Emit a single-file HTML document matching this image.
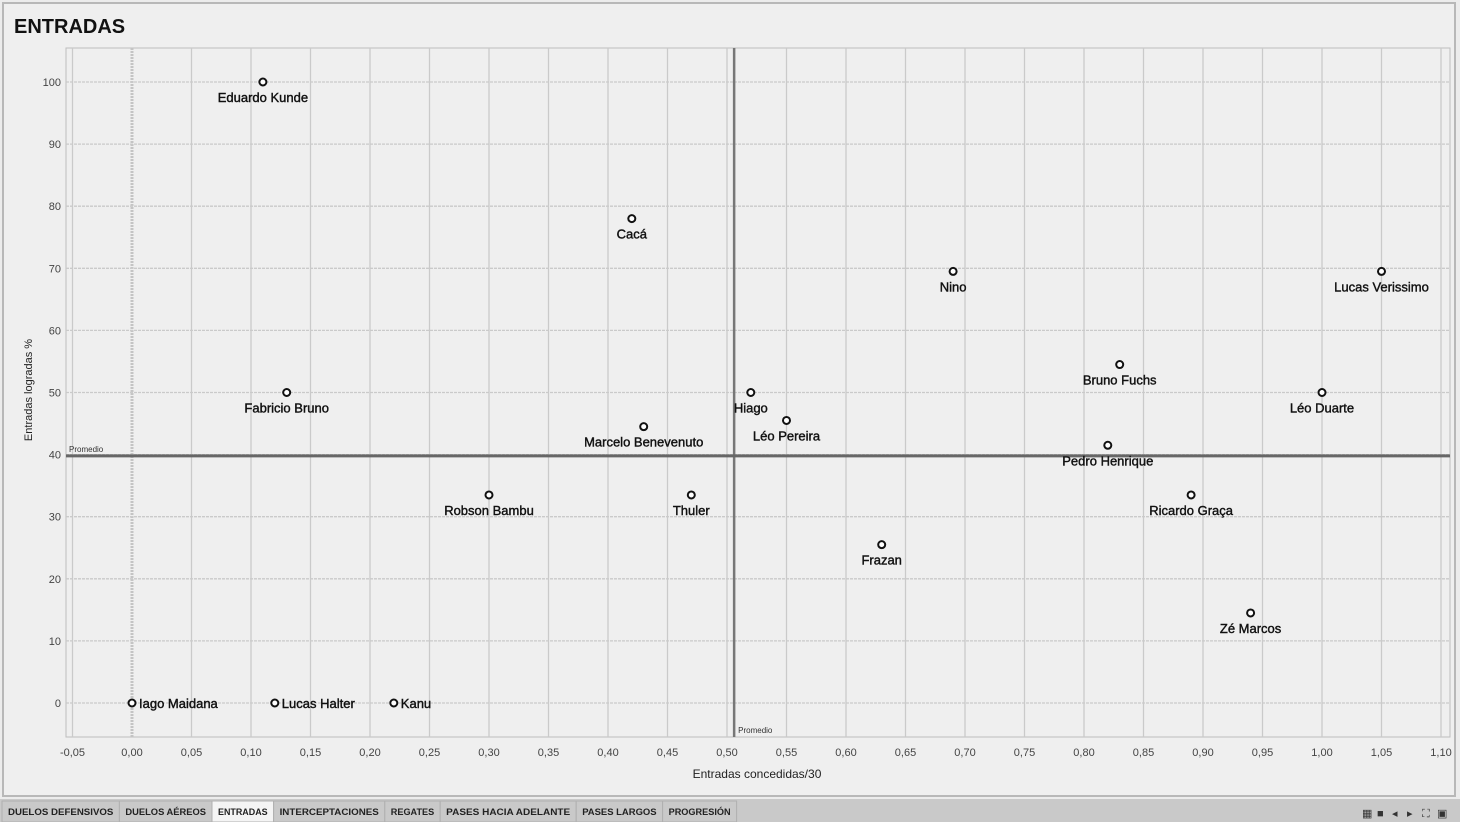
<!DOCTYPE html>
<html><head><meta charset="utf-8"><style>
body{margin:0;width:1460px;height:822px;background:#ececec;overflow:hidden;font-family:"Liberation Sans",sans-serif}
svg{position:absolute;left:0;top:0}
</style></head><body>
<svg id="c" width="1460" height="822">
<rect x="3" y="3" width="1452" height="793" fill="#efefef" stroke="#b8b8b8" stroke-width="2"/>
<text x="14" y="33" font-size="20" font-weight="bold" fill="#111">ENTRADAS</text>
<rect x="0" y="799" width="1460" height="23" fill="#c9c9c9"/>
<g id="plot"></g>
</svg>
<script>
const names=["Eduardo Kunde","Cacá","Nino","Lucas Verissimo","Bruno Fuchs","Fabricio Bruno","Hiago","Léo Duarte","Léo Pereira","Marcelo Benevenuto","Pedro Henrique","Robson Bambu","Thuler","Ricardo Graça","Frazan","Zé Marcos","Iago Maidana","Lucas Halter","Kanu"];
const xVals=[0.11,0.42,0.69,1.05,0.83,0.13,0.52,1.00,0.55,0.43,0.82,0.30,0.47,0.89,0.63,0.94,0.00,0.12,0.22];
const yVals=[100,78,69.5,69.5,54.5,50,50,50,45.5,44.5,41.5,33.5,33.5,33.5,25.5,14.5,0,0,0];
const xTicks=[-0.05,0,0.05,0.1,0.15,0.2,0.25,0.3,0.35,0.4,0.45,0.5,0.55,0.6,0.65,0.7,0.75,0.8,0.85,0.9,0.95,1.0,1.05,1.1];
const yTicks=[0,10,20,30,40,50,60,70,80,90,100];
const avgX=0.506, avgY=39.8;
const tabs=["DUELOS DEFENSIVOS","DUELOS AÉREOS","ENTRADAS","INTERCEPTACIONES","REGATES","PASES HACIA ADELANTE","PASES LARGOS","PROGRESIÓN"];

const X=v=>132+v*1190, Y=v=>703-v*6.21;
const NS="http://www.w3.org/2000/svg";
const svg=document.getElementById('c'), g=document.getElementById('plot');
function mk(t,a,p){const e=document.createElementNS(NS,t);for(const k in a)e.setAttribute(k,a[k]);(p||g).appendChild(e);return e;}
const L=66,R=1450,T=48,B=737;
let e=mk('rect',{x:L,y:T,width:R-L,height:B-T,fill:'none',stroke:'#bdbdbd'});


xTicks.forEach(v=>{
  const l=mk('line',{x1:X(v),x2:X(v),y1:T,y2:B,stroke:v===0?'#c4c4c4':'#cacaca','stroke-width':v===0?3:1.3,'stroke-dasharray':v===0?'2 1':''});
  
  
  const t=mk('text',{x:X(v),y:756,'font-size':11,'text-anchor':'middle',fill:'#444'});
  t.textContent=v.toFixed(2).replace('.',',');
  
  
});
yTicks.forEach(v=>{
  const l=mk('line',{x1:L,x2:R,y1:Y(v),y2:Y(v),stroke:'#cacaca','stroke-width':1.3,'stroke-dasharray':'3 1'});
  
  
  const t=mk('text',{x:61,y:Y(v)+4,'font-size':11,'text-anchor':'end',fill:'#444'});
  t.textContent=v;
  
  
});
e=mk('line',{x1:X(avgX),x2:X(avgX),y1:T,y2:B,stroke:'#777','stroke-width':2.5});


e=mk('line',{x1:L,x2:R,y1:Y(avgY),y2:Y(avgY),stroke:'#666','stroke-width':3});


e=mk('text',{x:69,y:Y(avgY)-4,'font-size':8,fill:'#333'});e.textContent='Promedio';


e=mk('text',{x:X(avgX)+4,y:733,'font-size':8,fill:'#333'});e.textContent='Promedio';


e=mk('text',{x:757,y:778,'font-size':12,'text-anchor':'middle',fill:'#222'});e.textContent='Entradas concedidas/30';


e=mk('text',{x:0,y:0,'font-size':11,'text-anchor':'middle',fill:'#222',transform:'translate(32,390) rotate(-90)'});e.textContent='Entradas logradas %';


names.forEach((n,i)=>{
  const cx=X(xVals[i]),cy=Y(yVals[i]);
  const c=mk('circle',{cx:cx,cy:cy,r:3.5,fill:'#fff',stroke:'#111','stroke-width':2});
  
  
  const right=yVals[i]===0;
  const t=mk('text',{x:right?cx+7:cx,y:right?cy+5:cy+20,'font-size':13,'text-anchor':right?'start':'middle',fill:'#111',stroke:'#111','stroke-width':0.4});
  t.textContent=n;
  
  
});
let tx=2;
tabs.forEach((n,i)=>{
  const w=n.length*6.2+12;
  const r=mk('rect',{x:tx,y:801,width:w,height:21,fill:i===2?'#f4f4f4':'#c9c9c9',stroke:'#b0b0b0'},svg);
  
  
  const t=mk('text',{x:tx+6,y:815,'font-size':9.5,'font-weight':'bold',fill:'#222',textLength:w-12,lengthAdjust:'spacingAndGlyphs'},svg);
  t.textContent=n;
  
  
  tx+=w;
});
const ic=["▦","■","◂","▸","⛶","▣"];
ic.forEach((s,i)=>{const t=mk('text',{x:1362+i*15,y:817,'font-size':11,fill:'#333'},svg);t.textContent=s;
  
  });
</script>
</body></html>
